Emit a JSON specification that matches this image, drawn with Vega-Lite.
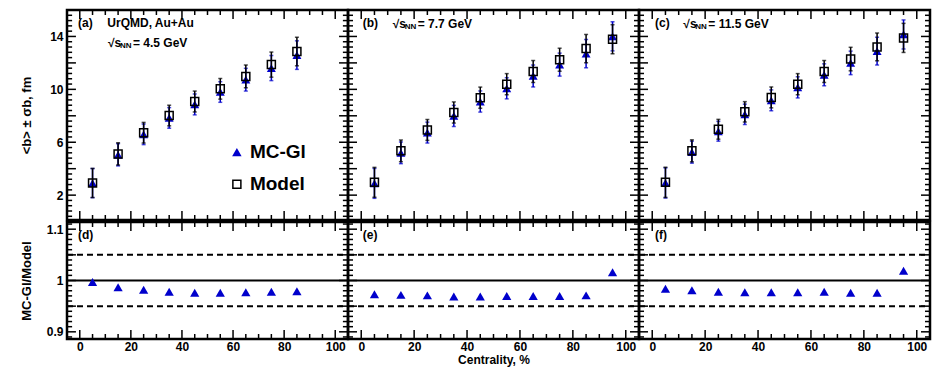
{
"$schema": "https://vega.github.io/schema/vega-lite/v6.json",
"padding": {"left": 18, "top": 8, "right": 3, "bottom": 0},
"background": "white",
"spacing": -2,
"config": {
  "view": {"stroke": "black", "strokeWidth": 2.5},
  "concat": {"spacing": 0},
  "font": "Liberation Sans",
  "axis": {"domain": false, "grid": false, "ticks": false, "labelFont": "Liberation Sans", "labelFontWeight": "bold", "labelFontSize": 12, "labelColor": "black", "titleFont": "Liberation Sans", "titleFontWeight": "bold", "titleFontSize": 13, "titleColor": "black", "labelFlush": false, "labelOverlap": false}
},
"datasets": {
  "a": [
    {"x":5,"m":2.92,"lo":1.82,"hi":4.02,"g":2.91,"glo":1.81,"ghi":4.01},
    {"x":15,"m":5.12,"lo":4.28,"hi":5.96,"g":5.05,"glo":4.21,"ghi":5.89},
    {"x":25,"m":6.72,"lo":5.94,"hi":7.50,"g":6.60,"glo":5.82,"ghi":7.38},
    {"x":35,"m":8.02,"lo":7.24,"hi":8.80,"g":7.84,"glo":7.06,"ghi":8.62},
    {"x":45,"m":9.08,"lo":8.29,"hi":9.87,"g":8.86,"glo":8.07,"ghi":9.65},
    {"x":55,"m":10.04,"lo":9.26,"hi":10.82,"g":9.80,"glo":9.02,"ghi":10.58},
    {"x":65,"m":10.98,"lo":10.12,"hi":11.84,"g":10.73,"glo":9.87,"ghi":11.59},
    {"x":75,"m":11.87,"lo":10.92,"hi":12.82,"g":11.61,"glo":10.66,"ghi":12.56},
    {"x":85,"m":12.86,"lo":11.78,"hi":13.94,"g":12.59,"glo":11.51,"ghi":13.67}
  ],
  "b": [
    {"x":5,"m":2.97,"lo":1.84,"hi":4.10,"g":2.89,"glo":1.76,"ghi":4.02},
    {"x":15,"m":5.35,"lo":4.53,"hi":6.17,"g":5.20,"glo":4.38,"ghi":6.02},
    {"x":25,"m":6.93,"lo":6.14,"hi":7.72,"g":6.73,"glo":5.94,"ghi":7.52},
    {"x":35,"m":8.25,"lo":7.45,"hi":9.05,"g":7.99,"glo":7.19,"ghi":8.79},
    {"x":45,"m":9.37,"lo":8.57,"hi":10.17,"g":9.08,"glo":8.28,"ghi":9.88},
    {"x":55,"m":10.39,"lo":9.59,"hi":11.19,"g":10.08,"glo":9.28,"ghi":10.88},
    {"x":65,"m":11.35,"lo":10.52,"hi":12.18,"g":11.01,"glo":10.18,"ghi":11.84},
    {"x":75,"m":12.24,"lo":11.37,"hi":13.11,"g":11.87,"glo":11.00,"ghi":12.74},
    {"x":85,"m":13.08,"lo":12.01,"hi":14.15,"g":12.70,"glo":11.63,"ghi":13.77},
    {"x":95,"m":13.79,"lo":12.69,"hi":14.89,"g":14.01,"glo":12.91,"ghi":15.11}
  ],
  "c": [
    {"x":5,"m":2.97,"lo":1.83,"hi":4.11,"g":2.92,"glo":1.78,"ghi":4.06},
    {"x":15,"m":5.35,"lo":4.52,"hi":6.18,"g":5.25,"glo":4.42,"ghi":6.08},
    {"x":25,"m":6.98,"lo":6.23,"hi":7.73,"g":6.83,"glo":6.08,"ghi":7.58},
    {"x":35,"m":8.30,"lo":7.53,"hi":9.07,"g":8.11,"glo":7.34,"ghi":8.88},
    {"x":45,"m":9.39,"lo":8.60,"hi":10.18,"g":9.17,"glo":8.38,"ghi":9.96},
    {"x":55,"m":10.39,"lo":9.59,"hi":11.19,"g":10.15,"glo":9.35,"ghi":10.95},
    {"x":65,"m":11.35,"lo":10.52,"hi":12.18,"g":11.10,"glo":10.27,"ghi":11.93},
    {"x":75,"m":12.29,"lo":11.40,"hi":13.18,"g":12.00,"glo":11.11,"ghi":12.89},
    {"x":85,"m":13.21,"lo":12.16,"hi":14.26,"g":12.89,"glo":11.84,"ghi":13.94},
    {"x":95,"m":13.89,"lo":12.79,"hi":14.99,"g":14.15,"glo":13.05,"ghi":15.25}
  ],
  "ra": [{"x":5,"r":0.997},{"x":15,"r":0.987},{"x":25,"r":0.982},{"x":35,"r":0.978},{"x":45,"r":0.976},{"x":55,"r":0.976},{"x":65,"r":0.977},{"x":75,"r":0.978},{"x":85,"r":0.979}],
  "rb": [{"x":5,"r":0.973},{"x":15,"r":0.972},{"x":25,"r":0.971},{"x":35,"r":0.969},{"x":45,"r":0.969},{"x":55,"r":0.970},{"x":65,"r":0.970},{"x":75,"r":0.970},{"x":85,"r":0.971},{"x":95,"r":1.016}],
  "rc": [{"x":5,"r":0.984},{"x":15,"r":0.981},{"x":25,"r":0.978},{"x":35,"r":0.977},{"x":45,"r":0.977},{"x":55,"r":0.977},{"x":65,"r":0.978},{"x":75,"r":0.976},{"x":85,"r":0.976},{"x":95,"r":1.019}],
  "rHi": [{"v":1.05}],
  "rLo": [{"v":0.95}],
  "rMid": [{"v":1.0}],
  "xMaj": [{"v":0},{"v":20},{"v":40},{"v":60},{"v":80},{"v":100}],
  "xMin": [{"v":5},{"v":10},{"v":15},{"v":25},{"v":30},{"v":35},{"v":45},{"v":50},{"v":55},{"v":65},{"v":70},{"v":75},{"v":85},{"v":90},{"v":95}],
  "yMaj": [{"v":2},{"v":4},{"v":6},{"v":8},{"v":10},{"v":12},{"v":14},{"v":16}],
  "yMin": [{"v":0.4},{"v":0.8},{"v":1.2},{"v":1.6},{"v":2.4},{"v":2.8},{"v":3.2},{"v":3.6},{"v":4.4},{"v":4.8},{"v":5.2},{"v":5.6},{"v":6.4},{"v":6.8},{"v":7.2},{"v":7.6},{"v":8.4},{"v":8.8},{"v":9.2},{"v":9.6},{"v":10.4},{"v":10.8},{"v":11.2},{"v":11.6},{"v":12.4},{"v":12.8},{"v":13.2},{"v":13.6},{"v":14.4},{"v":14.8},{"v":15.2},{"v":15.6}],
  "rMaj": [{"v":0.9},{"v":0.95},{"v":1.0},{"v":1.05},{"v":1.1}],
  "rMin": [{"v":0.89},{"v":0.91},{"v":0.92},{"v":0.93},{"v":0.94},{"v":0.96},{"v":0.97},{"v":0.98},{"v":0.99},{"v":1.01},{"v":1.02},{"v":1.03},{"v":1.04},{"v":1.06},{"v":1.07},{"v":1.08},{"v":1.09},{"v":1.11}],
  "annA": [{"x":-0.7,"y":14.99,"t":"(a)"},{"x":10.78,"y":14.99,"t":"UrQMD, Au+Au"}],
  "annB": [{"x":0.56,"y":15.04,"t":"(b)"}],
  "annC": [{"x":1.05,"y":15.0,"t":"(c)"}],
  "annD": [{"x":-0.7,"y":1.0896,"t":"(d)"}],
  "annE": [{"x":0.56,"y":1.0896,"t":"(e)"}],
  "annF": [{"x":1.05,"y":1.0896,"t":"(f)"}],
  "sqA": [{"x":11.05,"y":13.53,"root":"√s","sub":"NN","rest":"= 4.5 GeV"}],
  "sqB": [{"x":11.9,"y":14.92,"root":"√s","sub":"NN","rest":"= 7.7 GeV"}],
  "sqC": [{"x":11.75,"y":14.95,"root":"√s","sub":"NN","rest":"= 11.5 GeV"}],
  "legG": [{"x":61.5,"y":5.26}],
  "legM": [{"x":61.5,"y":2.82}],
  "leg": [{"x":61.5,"y":5.26,"t":"MC-Gl"},{"x":61.5,"y":2.82,"t":"Model"}]
},
"vconcat": [
 {"spacing": 0, "bounds": "flush", "hconcat": [
  {"width": 281, "height": 210,
   "layer": [
    {"data": {"name": "a"}, "mark": {"type": "errorbar", "ticks": {"size": 4}, "color": "#0000cc", "thickness": 1.5},
     "encoding": {"x": {"field": "x", "type": "quantitative", "scale": {"domain": [-5,105], "nice": false, "zero": false}, "axis": null},
                  "y": {"field": "glo", "type": "quantitative", "scale": {"domain": [0.12,16], "nice": false, "zero": false}, "title": "<b> ± σb, fm", "axis": {"orient": "left", "values": [2,4,6,8,10,12,14,16], "labelOverlap": false, "labelPadding": 4, "title": "<b> ± σb, fm", "titlePadding": 4, "minExtent": 30, "maxExtent": 30}},
                  "y2": {"field": "ghi"}}},
    {"data": {"name": "a"}, "mark": {"type": "point", "shape": "triangle-up", "filled": true, "color": "#0000cc", "size": 80, "opacity": 1},
     "encoding": {"x": {"field": "x", "type": "quantitative"}, "y": {"field": "g", "type": "quantitative"}}},
    {"data": {"name": "a"}, "mark": {"type": "errorbar", "ticks": {"size": 4}, "color": "black", "thickness": 1.5},
     "encoding": {"x": {"field": "x", "type": "quantitative"}, "y": {"field": "lo", "type": "quantitative", "title": "<b> ± σb, fm"}, "y2": {"field": "hi"}}},
    {"data": {"name": "a"}, "mark": {"type": "point", "shape": "square", "filled": false, "color": "black", "strokeWidth": 1.5, "size": 64, "opacity": 1},
     "encoding": {"x": {"field": "x", "type": "quantitative"}, "y": {"field": "m", "type": "quantitative"}}},
    {"data": {"name": "annA"}, "mark": {"type": "text", "align": "left", "baseline": "middle", "fontSize": 12, "fontWeight": "bold"},
     "encoding": {"x": {"field": "x", "type": "quantitative"}, "y": {"field": "y", "type": "quantitative"}, "text": {"field": "t"}}},
    {"data": {"name": "sqA"}, "mark": {"type": "text", "align": "left", "baseline": "middle", "fontSize": 12, "fontWeight": "bold"},
     "encoding": {"x": {"field": "x", "type": "quantitative"}, "y": {"field": "y", "type": "quantitative"}, "text": {"field": "root"}}},
    {"data": {"name": "sqA"}, "mark": {"type": "text", "align": "left", "baseline": "middle", "fontSize": 8, "fontWeight": "bold", "dx": 12, "dy": 3},
     "encoding": {"x": {"field": "x", "type": "quantitative"}, "y": {"field": "y", "type": "quantitative"}, "text": {"field": "sub"}}},
    {"data": {"name": "sqA"}, "mark": {"type": "text", "align": "left", "baseline": "middle", "fontSize": 12, "fontWeight": "bold", "dx": 25},
     "encoding": {"x": {"field": "x", "type": "quantitative"}, "y": {"field": "y", "type": "quantitative"}, "text": {"field": "rest"}}},
    {"data": {"name": "legG"}, "mark": {"type": "point", "shape": "triangle-up", "filled": true, "color": "#0000cc", "size": 90, "opacity": 1},
     "encoding": {"x": {"field": "x", "type": "quantitative"}, "y": {"field": "y", "type": "quantitative"}}},
    {"data": {"name": "legM"}, "mark": {"type": "point", "shape": "square", "filled": false, "color": "black", "strokeWidth": 1.5, "size": 64, "opacity": 1},
     "encoding": {"x": {"field": "x", "type": "quantitative"}, "y": {"field": "y", "type": "quantitative"}}},
    {"data": {"name": "leg"}, "mark": {"type": "text", "align": "left", "baseline": "middle", "fontSize": 19, "fontWeight": "bold", "dx": 13},
     "encoding": {"x": {"field": "x", "type": "quantitative"}, "y": {"field": "y", "type": "quantitative"}, "text": {"field": "t"}}},
    {"data": {"name": "xMaj"}, "mark": {"type": "rule", "strokeWidth": 1.5, "color": "black"}, "encoding": {"x": {"field": "v", "type": "quantitative"}, "y": {"datum": 0.12, "type": "quantitative"}, "y2": {"datum": 0.80}}},
    {"data": {"name": "xMin"}, "mark": {"type": "rule", "strokeWidth": 1.5, "color": "black"}, "encoding": {"x": {"field": "v", "type": "quantitative"}, "y": {"datum": 0.12, "type": "quantitative"}, "y2": {"datum": 0.50}}},
    {"data": {"name": "xMaj"}, "mark": {"type": "rule", "strokeWidth": 1.5, "color": "black"}, "encoding": {"x": {"field": "v", "type": "quantitative"}, "y": {"datum": 16, "type": "quantitative"}, "y2": {"datum": 15.32}}},
    {"data": {"name": "xMin"}, "mark": {"type": "rule", "strokeWidth": 1.5, "color": "black"}, "encoding": {"x": {"field": "v", "type": "quantitative"}, "y": {"datum": 16, "type": "quantitative"}, "y2": {"datum": 15.62}}},
    {"data": {"name": "yMaj"}, "mark": {"type": "rule", "strokeWidth": 1.5, "color": "black"}, "encoding": {"y": {"field": "v", "type": "quantitative"}, "x": {"datum": -5, "type": "quantitative"}, "x2": {"datum": -1.5}}},
    {"data": {"name": "yMin"}, "mark": {"type": "rule", "strokeWidth": 1.5, "color": "black"}, "encoding": {"y": {"field": "v", "type": "quantitative"}, "x": {"datum": -5, "type": "quantitative"}, "x2": {"datum": -3}}},
    {"data": {"name": "yMaj"}, "mark": {"type": "rule", "strokeWidth": 1.5, "color": "black"}, "encoding": {"y": {"field": "v", "type": "quantitative"}, "x": {"datum": 105, "type": "quantitative"}, "x2": {"datum": 101.5}}},
    {"data": {"name": "yMin"}, "mark": {"type": "rule", "strokeWidth": 1.5, "color": "black"}, "encoding": {"y": {"field": "v", "type": "quantitative"}, "x": {"datum": 105, "type": "quantitative"}, "x2": {"datum": 103}}}
   ]},
  {"width": 291, "height": 210,
   "layer": [
    {"data": {"name": "b"}, "mark": {"type": "errorbar", "ticks": {"size": 4}, "color": "#0000cc", "thickness": 1.5},
     "encoding": {"x": {"field": "x", "type": "quantitative", "scale": {"domain": [-5,105], "nice": false, "zero": false}, "axis": null},
                  "y": {"field": "glo", "type": "quantitative", "scale": {"domain": [0.12,16], "nice": false, "zero": false}, "axis": null},
                  "y2": {"field": "ghi"}}},
    {"data": {"name": "b"}, "mark": {"type": "point", "shape": "triangle-up", "filled": true, "color": "#0000cc", "size": 80, "opacity": 1},
     "encoding": {"x": {"field": "x", "type": "quantitative"}, "y": {"field": "g", "type": "quantitative"}}},
    {"data": {"name": "b"}, "mark": {"type": "errorbar", "ticks": {"size": 4}, "color": "black", "thickness": 1.5},
     "encoding": {"x": {"field": "x", "type": "quantitative"}, "y": {"field": "lo", "type": "quantitative"}, "y2": {"field": "hi"}}},
    {"data": {"name": "b"}, "mark": {"type": "point", "shape": "square", "filled": false, "color": "black", "strokeWidth": 1.5, "size": 64, "opacity": 1},
     "encoding": {"x": {"field": "x", "type": "quantitative"}, "y": {"field": "m", "type": "quantitative"}}},
    {"data": {"name": "annB"}, "mark": {"type": "text", "align": "left", "baseline": "middle", "fontSize": 12, "fontWeight": "bold"},
     "encoding": {"x": {"field": "x", "type": "quantitative"}, "y": {"field": "y", "type": "quantitative"}, "text": {"field": "t"}}},
    {"data": {"name": "sqB"}, "mark": {"type": "text", "align": "left", "baseline": "middle", "fontSize": 12, "fontWeight": "bold"},
     "encoding": {"x": {"field": "x", "type": "quantitative"}, "y": {"field": "y", "type": "quantitative"}, "text": {"field": "root"}}},
    {"data": {"name": "sqB"}, "mark": {"type": "text", "align": "left", "baseline": "middle", "fontSize": 8, "fontWeight": "bold", "dx": 12, "dy": 3},
     "encoding": {"x": {"field": "x", "type": "quantitative"}, "y": {"field": "y", "type": "quantitative"}, "text": {"field": "sub"}}},
    {"data": {"name": "sqB"}, "mark": {"type": "text", "align": "left", "baseline": "middle", "fontSize": 12, "fontWeight": "bold", "dx": 25},
     "encoding": {"x": {"field": "x", "type": "quantitative"}, "y": {"field": "y", "type": "quantitative"}, "text": {"field": "rest"}}},
    {"data": {"name": "xMaj"}, "mark": {"type": "rule", "strokeWidth": 1.5, "color": "black"}, "encoding": {"x": {"field": "v", "type": "quantitative"}, "y": {"datum": 0.12, "type": "quantitative"}, "y2": {"datum": 0.80}}},
    {"data": {"name": "xMin"}, "mark": {"type": "rule", "strokeWidth": 1.5, "color": "black"}, "encoding": {"x": {"field": "v", "type": "quantitative"}, "y": {"datum": 0.12, "type": "quantitative"}, "y2": {"datum": 0.50}}},
    {"data": {"name": "xMaj"}, "mark": {"type": "rule", "strokeWidth": 1.5, "color": "black"}, "encoding": {"x": {"field": "v", "type": "quantitative"}, "y": {"datum": 16, "type": "quantitative"}, "y2": {"datum": 15.32}}},
    {"data": {"name": "xMin"}, "mark": {"type": "rule", "strokeWidth": 1.5, "color": "black"}, "encoding": {"x": {"field": "v", "type": "quantitative"}, "y": {"datum": 16, "type": "quantitative"}, "y2": {"datum": 15.62}}},
    {"data": {"name": "yMaj"}, "mark": {"type": "rule", "strokeWidth": 1.5, "color": "black"}, "encoding": {"y": {"field": "v", "type": "quantitative"}, "x": {"datum": -5, "type": "quantitative"}, "x2": {"datum": -1.6}}},
    {"data": {"name": "yMin"}, "mark": {"type": "rule", "strokeWidth": 1.5, "color": "black"}, "encoding": {"y": {"field": "v", "type": "quantitative"}, "x": {"datum": -5, "type": "quantitative"}, "x2": {"datum": -3.1}}},
    {"data": {"name": "yMaj"}, "mark": {"type": "rule", "strokeWidth": 1.5, "color": "black"}, "encoding": {"y": {"field": "v", "type": "quantitative"}, "x": {"datum": 105, "type": "quantitative"}, "x2": {"datum": 101.6}}},
    {"data": {"name": "yMin"}, "mark": {"type": "rule", "strokeWidth": 1.5, "color": "black"}, "encoding": {"y": {"field": "v", "type": "quantitative"}, "x": {"datum": 105, "type": "quantitative"}, "x2": {"datum": 103.1}}}
   ]},
  {"width": 291, "height": 210,
   "layer": [
    {"data": {"name": "c"}, "mark": {"type": "errorbar", "ticks": {"size": 4}, "color": "#0000cc", "thickness": 1.5},
     "encoding": {"x": {"field": "x", "type": "quantitative", "scale": {"domain": [-5,105], "nice": false, "zero": false}, "axis": null},
                  "y": {"field": "glo", "type": "quantitative", "scale": {"domain": [0.12,16], "nice": false, "zero": false}, "axis": null},
                  "y2": {"field": "ghi"}}},
    {"data": {"name": "c"}, "mark": {"type": "point", "shape": "triangle-up", "filled": true, "color": "#0000cc", "size": 80, "opacity": 1},
     "encoding": {"x": {"field": "x", "type": "quantitative"}, "y": {"field": "g", "type": "quantitative"}}},
    {"data": {"name": "c"}, "mark": {"type": "errorbar", "ticks": {"size": 4}, "color": "black", "thickness": 1.5},
     "encoding": {"x": {"field": "x", "type": "quantitative"}, "y": {"field": "lo", "type": "quantitative"}, "y2": {"field": "hi"}}},
    {"data": {"name": "c"}, "mark": {"type": "point", "shape": "square", "filled": false, "color": "black", "strokeWidth": 1.5, "size": 64, "opacity": 1},
     "encoding": {"x": {"field": "x", "type": "quantitative"}, "y": {"field": "m", "type": "quantitative"}}},
    {"data": {"name": "annC"}, "mark": {"type": "text", "align": "left", "baseline": "middle", "fontSize": 12, "fontWeight": "bold"},
     "encoding": {"x": {"field": "x", "type": "quantitative"}, "y": {"field": "y", "type": "quantitative"}, "text": {"field": "t"}}},
    {"data": {"name": "sqC"}, "mark": {"type": "text", "align": "left", "baseline": "middle", "fontSize": 12, "fontWeight": "bold"},
     "encoding": {"x": {"field": "x", "type": "quantitative"}, "y": {"field": "y", "type": "quantitative"}, "text": {"field": "root"}}},
    {"data": {"name": "sqC"}, "mark": {"type": "text", "align": "left", "baseline": "middle", "fontSize": 8, "fontWeight": "bold", "dx": 12, "dy": 3},
     "encoding": {"x": {"field": "x", "type": "quantitative"}, "y": {"field": "y", "type": "quantitative"}, "text": {"field": "sub"}}},
    {"data": {"name": "sqC"}, "mark": {"type": "text", "align": "left", "baseline": "middle", "fontSize": 12, "fontWeight": "bold", "dx": 25},
     "encoding": {"x": {"field": "x", "type": "quantitative"}, "y": {"field": "y", "type": "quantitative"}, "text": {"field": "rest"}}},
    {"data": {"name": "xMaj"}, "mark": {"type": "rule", "strokeWidth": 1.5, "color": "black"}, "encoding": {"x": {"field": "v", "type": "quantitative"}, "y": {"datum": 0.12, "type": "quantitative"}, "y2": {"datum": 0.80}}},
    {"data": {"name": "xMin"}, "mark": {"type": "rule", "strokeWidth": 1.5, "color": "black"}, "encoding": {"x": {"field": "v", "type": "quantitative"}, "y": {"datum": 0.12, "type": "quantitative"}, "y2": {"datum": 0.50}}},
    {"data": {"name": "xMaj"}, "mark": {"type": "rule", "strokeWidth": 1.5, "color": "black"}, "encoding": {"x": {"field": "v", "type": "quantitative"}, "y": {"datum": 16, "type": "quantitative"}, "y2": {"datum": 15.32}}},
    {"data": {"name": "xMin"}, "mark": {"type": "rule", "strokeWidth": 1.5, "color": "black"}, "encoding": {"x": {"field": "v", "type": "quantitative"}, "y": {"datum": 16, "type": "quantitative"}, "y2": {"datum": 15.62}}},
    {"data": {"name": "yMaj"}, "mark": {"type": "rule", "strokeWidth": 1.5, "color": "black"}, "encoding": {"y": {"field": "v", "type": "quantitative"}, "x": {"datum": -5, "type": "quantitative"}, "x2": {"datum": -1.6}}},
    {"data": {"name": "yMin"}, "mark": {"type": "rule", "strokeWidth": 1.5, "color": "black"}, "encoding": {"y": {"field": "v", "type": "quantitative"}, "x": {"datum": -5, "type": "quantitative"}, "x2": {"datum": -3.1}}},
    {"data": {"name": "yMaj"}, "mark": {"type": "rule", "strokeWidth": 1.5, "color": "black"}, "encoding": {"y": {"field": "v", "type": "quantitative"}, "x": {"datum": 105, "type": "quantitative"}, "x2": {"datum": 101.6}}},
    {"data": {"name": "yMin"}, "mark": {"type": "rule", "strokeWidth": 1.5, "color": "black"}, "encoding": {"y": {"field": "v", "type": "quantitative"}, "x": {"datum": 105, "type": "quantitative"}, "x2": {"datum": 103.1}}}
   ]}
 ]},
 {"spacing": 0, "bounds": "flush", "hconcat": [
  {"width": 281, "height": 117,
   "layer": [
    {"data": {"name": "rHi"}, "mark": {"type": "rule", "strokeWidth": 2, "color": "black", "strokeDash": [6,4]},
     "encoding": {"x": {"datum": -5, "type": "quantitative", "scale": {"domain": [-5,105], "nice": false, "zero": false}, "axis": {"orient": "bottom", "values": [0,20,40,60,80,100], "labelOverlap": false, "format": "d", "labelPadding": 2, "title": null}},
                  "x2": {"datum": 105},
                  "y": {"field": "v", "type": "quantitative", "scale": {"domain": [0.886,1.114], "nice": false, "zero": false}, "axis": {"orient": "left", "values": [0.9,0.95,1,1.05,1.1], "labelOverlap": false, "format": "~g", "labelPadding": 4, "title": "MC-Gl/Model", "titlePadding": 4, "minExtent": 30, "maxExtent": 30}}}},
    {"data": {"name": "rLo"}, "mark": {"type": "rule", "strokeWidth": 2, "color": "black", "strokeDash": [6,4]},
     "encoding": {"x": {"datum": -5, "type": "quantitative"}, "x2": {"datum": 105}, "y": {"field": "v", "type": "quantitative"}}},
    {"data": {"name": "rMid"}, "mark": {"type": "rule", "strokeWidth": 2, "color": "black"},
     "encoding": {"x": {"datum": -5, "type": "quantitative"}, "x2": {"datum": 105}, "y": {"field": "v", "type": "quantitative"}}},
    {"data": {"name": "ra"}, "mark": {"type": "point", "shape": "triangle-up", "filled": true, "color": "#0000cc", "size": 85, "opacity": 1},
     "encoding": {"x": {"field": "x", "type": "quantitative"}, "y": {"field": "r", "type": "quantitative"}}},
    {"data": {"name": "annD"}, "mark": {"type": "text", "align": "left", "baseline": "middle", "fontSize": 12, "fontWeight": "bold"},
     "encoding": {"x": {"field": "x", "type": "quantitative"}, "y": {"field": "y", "type": "quantitative"}, "text": {"field": "t"}}},
    {"data": {"name": "xMaj"}, "mark": {"type": "rule", "strokeWidth": 1.5, "color": "black"}, "encoding": {"x": {"field": "v", "type": "quantitative"}, "y": {"datum": 0.886, "type": "quantitative"}, "y2": {"datum": 0.9035}}},
    {"data": {"name": "xMin"}, "mark": {"type": "rule", "strokeWidth": 1.5, "color": "black"}, "encoding": {"x": {"field": "v", "type": "quantitative"}, "y": {"datum": 0.886, "type": "quantitative"}, "y2": {"datum": 0.8957}}},
    {"data": {"name": "xMaj"}, "mark": {"type": "rule", "strokeWidth": 1.5, "color": "black"}, "encoding": {"x": {"field": "v", "type": "quantitative"}, "y": {"datum": 1.114, "type": "quantitative"}, "y2": {"datum": 1.0965}}},
    {"data": {"name": "xMin"}, "mark": {"type": "rule", "strokeWidth": 1.5, "color": "black"}, "encoding": {"x": {"field": "v", "type": "quantitative"}, "y": {"datum": 1.114, "type": "quantitative"}, "y2": {"datum": 1.1043}}},
    {"data": {"name": "rMaj"}, "mark": {"type": "rule", "strokeWidth": 1.5, "color": "black"}, "encoding": {"y": {"field": "v", "type": "quantitative"}, "x": {"datum": -5, "type": "quantitative"}, "x2": {"datum": -1.5}}},
    {"data": {"name": "rMin"}, "mark": {"type": "rule", "strokeWidth": 1.5, "color": "black"}, "encoding": {"y": {"field": "v", "type": "quantitative"}, "x": {"datum": -5, "type": "quantitative"}, "x2": {"datum": -3}}},
    {"data": {"name": "rMaj"}, "mark": {"type": "rule", "strokeWidth": 1.5, "color": "black"}, "encoding": {"y": {"field": "v", "type": "quantitative"}, "x": {"datum": 105, "type": "quantitative"}, "x2": {"datum": 101.5}}},
    {"data": {"name": "rMin"}, "mark": {"type": "rule", "strokeWidth": 1.5, "color": "black"}, "encoding": {"y": {"field": "v", "type": "quantitative"}, "x": {"datum": 105, "type": "quantitative"}, "x2": {"datum": 103}}}
   ]},
  {"width": 291, "height": 117,
   "layer": [
    {"data": {"name": "rHi"}, "mark": {"type": "rule", "strokeWidth": 2, "color": "black", "strokeDash": [6,4]},
     "encoding": {"x": {"datum": -5, "type": "quantitative", "scale": {"domain": [-5,105], "nice": false, "zero": false}, "axis": {"orient": "bottom", "values": [0,20,40,60,80,100], "labelOverlap": false, "format": "d", "labelPadding": 2, "title": "Centrality, %", "titlePadding": 2, "titleFontSize": 12}},
                  "x2": {"datum": 105},
                  "y": {"field": "v", "type": "quantitative", "scale": {"domain": [0.886,1.114], "nice": false, "zero": false}, "axis": null}}},
    {"data": {"name": "rLo"}, "mark": {"type": "rule", "strokeWidth": 2, "color": "black", "strokeDash": [6,4]},
     "encoding": {"x": {"datum": -5, "type": "quantitative"}, "x2": {"datum": 105}, "y": {"field": "v", "type": "quantitative"}}},
    {"data": {"name": "rMid"}, "mark": {"type": "rule", "strokeWidth": 2, "color": "black"},
     "encoding": {"x": {"datum": -5, "type": "quantitative"}, "x2": {"datum": 105}, "y": {"field": "v", "type": "quantitative"}}},
    {"data": {"name": "rb"}, "mark": {"type": "point", "shape": "triangle-up", "filled": true, "color": "#0000cc", "size": 85, "opacity": 1},
     "encoding": {"x": {"field": "x", "type": "quantitative"}, "y": {"field": "r", "type": "quantitative"}}},
    {"data": {"name": "annE"}, "mark": {"type": "text", "align": "left", "baseline": "middle", "fontSize": 12, "fontWeight": "bold"},
     "encoding": {"x": {"field": "x", "type": "quantitative"}, "y": {"field": "y", "type": "quantitative"}, "text": {"field": "t"}}},
    {"data": {"name": "xMaj"}, "mark": {"type": "rule", "strokeWidth": 1.5, "color": "black"}, "encoding": {"x": {"field": "v", "type": "quantitative"}, "y": {"datum": 0.886, "type": "quantitative"}, "y2": {"datum": 0.9035}}},
    {"data": {"name": "xMin"}, "mark": {"type": "rule", "strokeWidth": 1.5, "color": "black"}, "encoding": {"x": {"field": "v", "type": "quantitative"}, "y": {"datum": 0.886, "type": "quantitative"}, "y2": {"datum": 0.8957}}},
    {"data": {"name": "xMaj"}, "mark": {"type": "rule", "strokeWidth": 1.5, "color": "black"}, "encoding": {"x": {"field": "v", "type": "quantitative"}, "y": {"datum": 1.114, "type": "quantitative"}, "y2": {"datum": 1.0965}}},
    {"data": {"name": "xMin"}, "mark": {"type": "rule", "strokeWidth": 1.5, "color": "black"}, "encoding": {"x": {"field": "v", "type": "quantitative"}, "y": {"datum": 1.114, "type": "quantitative"}, "y2": {"datum": 1.1043}}},
    {"data": {"name": "rMaj"}, "mark": {"type": "rule", "strokeWidth": 1.5, "color": "black"}, "encoding": {"y": {"field": "v", "type": "quantitative"}, "x": {"datum": -5, "type": "quantitative"}, "x2": {"datum": -1.6}}},
    {"data": {"name": "rMin"}, "mark": {"type": "rule", "strokeWidth": 1.5, "color": "black"}, "encoding": {"y": {"field": "v", "type": "quantitative"}, "x": {"datum": -5, "type": "quantitative"}, "x2": {"datum": -3.1}}},
    {"data": {"name": "rMaj"}, "mark": {"type": "rule", "strokeWidth": 1.5, "color": "black"}, "encoding": {"y": {"field": "v", "type": "quantitative"}, "x": {"datum": 105, "type": "quantitative"}, "x2": {"datum": 101.6}}},
    {"data": {"name": "rMin"}, "mark": {"type": "rule", "strokeWidth": 1.5, "color": "black"}, "encoding": {"y": {"field": "v", "type": "quantitative"}, "x": {"datum": 105, "type": "quantitative"}, "x2": {"datum": 103.1}}}
   ]},
  {"width": 291, "height": 117,
   "layer": [
    {"data": {"name": "rHi"}, "mark": {"type": "rule", "strokeWidth": 2, "color": "black", "strokeDash": [6,4]},
     "encoding": {"x": {"datum": -5, "type": "quantitative", "scale": {"domain": [-5,105], "nice": false, "zero": false}, "axis": {"orient": "bottom", "values": [0,20,40,60,80,100], "labelOverlap": false, "format": "d", "labelPadding": 2, "title": null}},
                  "x2": {"datum": 105},
                  "y": {"field": "v", "type": "quantitative", "scale": {"domain": [0.886,1.114], "nice": false, "zero": false}, "axis": null}}},
    {"data": {"name": "rLo"}, "mark": {"type": "rule", "strokeWidth": 2, "color": "black", "strokeDash": [6,4]},
     "encoding": {"x": {"datum": -5, "type": "quantitative"}, "x2": {"datum": 105}, "y": {"field": "v", "type": "quantitative"}}},
    {"data": {"name": "rMid"}, "mark": {"type": "rule", "strokeWidth": 2, "color": "black"},
     "encoding": {"x": {"datum": -5, "type": "quantitative"}, "x2": {"datum": 105}, "y": {"field": "v", "type": "quantitative"}}},
    {"data": {"name": "rc"}, "mark": {"type": "point", "shape": "triangle-up", "filled": true, "color": "#0000cc", "size": 85, "opacity": 1},
     "encoding": {"x": {"field": "x", "type": "quantitative"}, "y": {"field": "r", "type": "quantitative"}}},
    {"data": {"name": "annF"}, "mark": {"type": "text", "align": "left", "baseline": "middle", "fontSize": 12, "fontWeight": "bold"},
     "encoding": {"x": {"field": "x", "type": "quantitative"}, "y": {"field": "y", "type": "quantitative"}, "text": {"field": "t"}}},
    {"data": {"name": "xMaj"}, "mark": {"type": "rule", "strokeWidth": 1.5, "color": "black"}, "encoding": {"x": {"field": "v", "type": "quantitative"}, "y": {"datum": 0.886, "type": "quantitative"}, "y2": {"datum": 0.9035}}},
    {"data": {"name": "xMin"}, "mark": {"type": "rule", "strokeWidth": 1.5, "color": "black"}, "encoding": {"x": {"field": "v", "type": "quantitative"}, "y": {"datum": 0.886, "type": "quantitative"}, "y2": {"datum": 0.8957}}},
    {"data": {"name": "xMaj"}, "mark": {"type": "rule", "strokeWidth": 1.5, "color": "black"}, "encoding": {"x": {"field": "v", "type": "quantitative"}, "y": {"datum": 1.114, "type": "quantitative"}, "y2": {"datum": 1.0965}}},
    {"data": {"name": "xMin"}, "mark": {"type": "rule", "strokeWidth": 1.5, "color": "black"}, "encoding": {"x": {"field": "v", "type": "quantitative"}, "y": {"datum": 1.114, "type": "quantitative"}, "y2": {"datum": 1.1043}}},
    {"data": {"name": "rMaj"}, "mark": {"type": "rule", "strokeWidth": 1.5, "color": "black"}, "encoding": {"y": {"field": "v", "type": "quantitative"}, "x": {"datum": -5, "type": "quantitative"}, "x2": {"datum": -1.6}}},
    {"data": {"name": "rMin"}, "mark": {"type": "rule", "strokeWidth": 1.5, "color": "black"}, "encoding": {"y": {"field": "v", "type": "quantitative"}, "x": {"datum": -5, "type": "quantitative"}, "x2": {"datum": -3.1}}},
    {"data": {"name": "rMaj"}, "mark": {"type": "rule", "strokeWidth": 1.5, "color": "black"}, "encoding": {"y": {"field": "v", "type": "quantitative"}, "x": {"datum": 105, "type": "quantitative"}, "x2": {"datum": 101.6}}},
    {"data": {"name": "rMin"}, "mark": {"type": "rule", "strokeWidth": 1.5, "color": "black"}, "encoding": {"y": {"field": "v", "type": "quantitative"}, "x": {"datum": 105, "type": "quantitative"}, "x2": {"datum": 103.1}}}
   ]}
 ]}
]
}
